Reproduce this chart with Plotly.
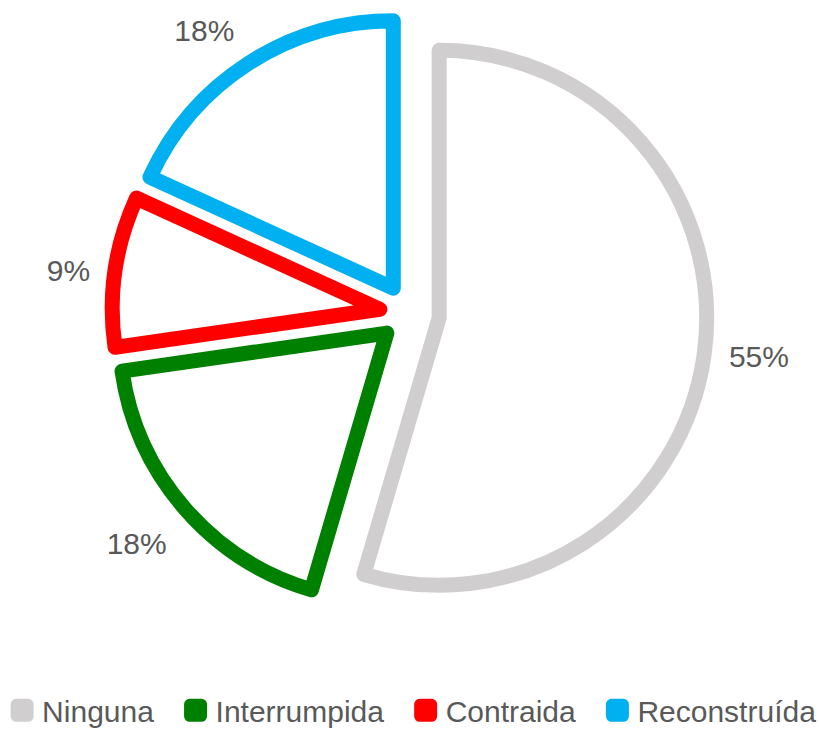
import plotly.graph_objects as go

categories = ["Ninguna", "Interrumpida", "Contraida", "Reconstruída"]
values = [6, 2, 1, 2]
colors = ["#D0CECE", "#008000", "#FF0000", "#00B0F0"]

FONT = "Arial, Liberation Sans, sans-serif"
NB = "\u00a0"
# per-slice text templates (padding keeps the outside labels off the outlines)
label_templates = [
    NB + NB + "%{percent:.0%}",
    NB + "<br>%{percent:.0%}",
    "%{percent:.0%}" + NB + NB,
    "%{percent:.0%}<br><sup>" + NB + "</sup>",
]
# trailing spacing after legend entries
legend_pad = [2, 2, 2, 0]

fig = go.Figure(go.Pie(
    labels=[c + NB * n for c, n in zip(categories, legend_pad)],
    values=values,
    sort=False,
    direction="clockwise",
    rotation=0,
    pull=[0.112] * len(values),
    marker=dict(colors=["#FFFFFF"] * len(values), line=dict(color=colors, width=15)),
    textinfo="percent",
    texttemplate=label_templates,
    textposition="outside",
    outsidetextfont=dict(family=FONT, size=30, color="#595959"),
    hoverinfo="skip",
))

fig.update_layout(
    width=819, height=729,
    margin=dict(l=0, r=0, t=16, b=118, autoexpand=False),
    paper_bgcolor="white", plot_bgcolor="white",
    showlegend=True,
    legend=dict(
        orientation="h", x=0.5032, xanchor="center", y=-0.167, yanchor="middle",
        font=dict(family=FONT, size=30, color="#595959"),
    ),
)

post = """
document.body.style.margin='0';
var gd = document.getElementsByClassName('plotly-graph-div')[0];
function rj(){
  gd.querySelectorAll('path.surface').forEach(function(p){p.style.strokeLinejoin='round';});
  gd.querySelectorAll('path.legendpie').forEach(function(p){p.style.strokeLinejoin='round'; p.style.strokeWidth='11px'; p.style.fill=p.style.stroke;});
}
rj(); gd.on('plotly_afterplot', rj);
"""
fig.write_html("out.html", post_script=post, config={"displayModeBar": False})
